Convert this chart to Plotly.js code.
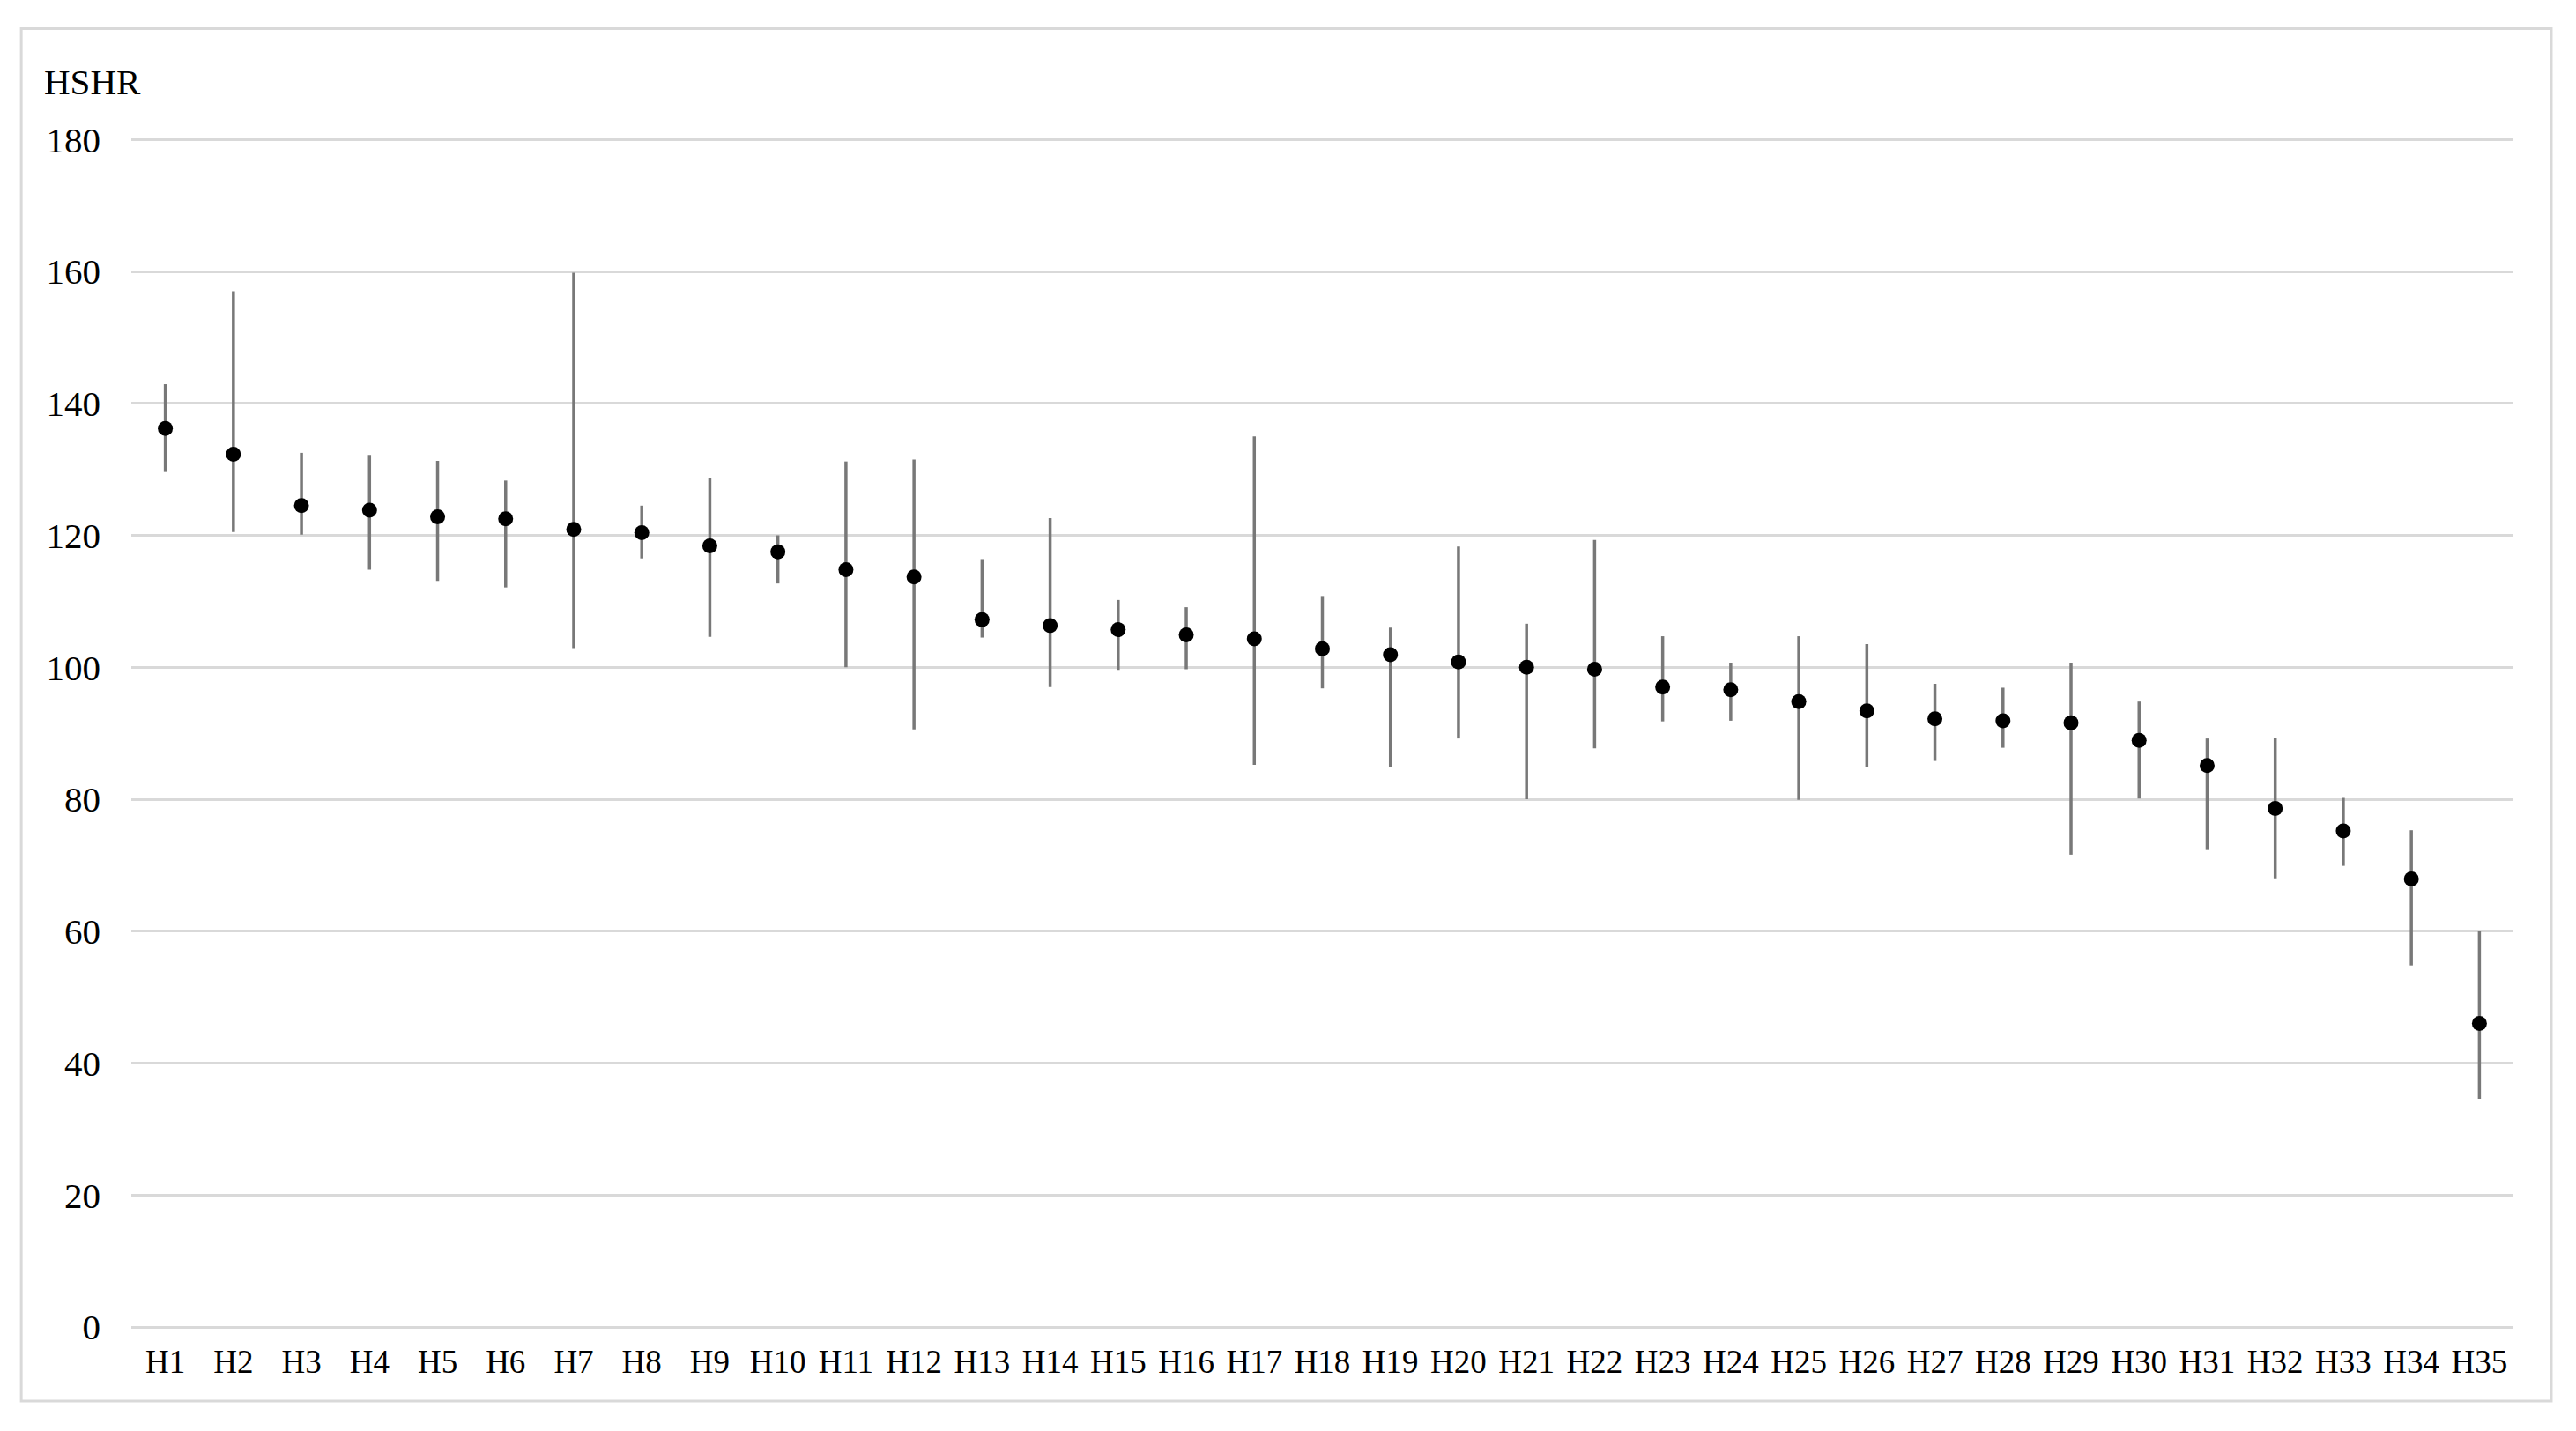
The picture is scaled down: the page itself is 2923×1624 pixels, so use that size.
<!DOCTYPE html>
<html>
<head>
<meta charset="utf-8">
<script src="https://cdn.plot.ly/plotly-3.0.1.min.js"></script>
<style>
  html, body { margin: 0; padding: 0; background: #fff; }
  #chart { width: 2923px; height: 1624px; }
</style>
</head>
<body>
<div id="chart"></div>
<script>
// HSHR per hospital with interval bounds
var hospitals = ['H1','H2','H3','H4','H5','H6','H7','H8','H9','H10',
                 'H11','H12','H13','H14','H15','H16','H17','H18','H19','H20',
                 'H21','H22','H23','H24','H25','H26','H27','H28','H29','H30',
                 'H31','H32','H33','H34','H35'];

var hshr  = [136.2, 132.3, 124.5, 123.8, 122.8, 122.5, 120.9, 120.4, 118.4, 117.5,
             114.8, 113.7, 107.2, 106.3, 105.7, 104.9, 104.3, 102.8, 101.9, 100.8,
             100.0,  99.7,  97.0,  96.6,  94.8,  93.4,  92.2,  91.9,  91.6,  88.9,
              85.1,  78.6,  75.2,  67.9,  46.0];

var upper = [142.9, 157.0, 132.5, 132.2, 131.3, 128.3, 159.8, 124.5, 128.7, 120.0,
             131.2, 131.5, 116.4, 122.6, 110.2, 109.1, 135.0, 110.8, 106.0, 118.3,
             106.6, 119.3, 104.7, 100.7, 104.7, 103.5,  97.5,  96.9, 100.7,  94.8,
              89.2,  89.2,  80.2,  75.3,  60.0];

var lower = [129.6, 120.5, 120.1, 114.8, 113.1, 112.1, 102.9, 116.5, 104.6, 112.7,
             100.0,  90.6, 104.5,  97.0,  99.6,  99.7,  85.2,  96.8,  84.9,  89.2,
              80.0,  87.7,  91.8,  91.9,  79.9,  84.8,  85.8,  87.8,  71.6,  80.1,
              72.3,  68.0,  69.9,  54.8,  34.6];

var yTicks = [0, 20, 40, 60, 80, 100, 120, 140, 160, 180];

var plus  = hshr.map(function (v, i) { return upper[i] - v; });
var minus = hshr.map(function (v, i) { return v - lower[i]; });

var serif = '"Liberation Serif", "Times New Roman", serif';
var grid  = '#d9d9d9';

var traces = [{
  x: hospitals, y: hshr, type: 'scatter', mode: 'markers',
  marker: {color: '#000000', size: 17},
  error_y: {type: 'data', symmetric: false, array: plus, arrayminus: minus,
            color: '#787878', thickness: 3.5, width: 0},
  hovertemplate: '%{x}: %{y:.1f}<extra></extra>'
}];

// top of range nudged past 180 so the 180 gridline is drawn
var layout = {
  width: 2923, height: 1624,
  margin: {l: 149, r: 71, t: 156, b: 118},
  plot_bgcolor: 'white', paper_bgcolor: 'white',
  showlegend: false,
  font: {family: serif, color: '#000000'},
  xaxis: {type: 'category', range: [-0.5, 34.5], showgrid: false,
          zeroline: false, showline: false, ticks: '',
          tickfont: {size: 37, family: serif, color: '#000'},
          ticklabelstandoff: 14},
  yaxis: {range: [0, 180.3], tickvals: yTicks, ticktext: yTicks.map(String),
          showgrid: true, gridcolor: grid, gridwidth: 3,
          zeroline: true, zerolinecolor: grid, zerolinewidth: 3,
          showline: false, ticks: '',
          tickfont: {size: 41, family: serif, color: '#000'},
          ticklabelstandoff: 34},
  annotations: [{
    text: 'HSHR', xref: 'paper', yref: 'paper',
    x: -0.0375, y: 1.047, xanchor: 'left', yanchor: 'middle',
    showarrow: false, font: {size: 41, family: serif, color: '#000'}
  }],
  shapes: [{
    type: 'rect', xref: 'paper', yref: 'paper',
    x0: -0.0462, x1: 1.0159, y0: -0.0623, y1: 1.0915,
    line: {color: '#d9d9d9', width: 3}, fillcolor: 'rgba(0,0,0,0)', layer: 'below'
  }]
};

Plotly.newPlot('chart', traces, layout, {displayModeBar: false, responsive: false});
</script>
</body>
</html>
